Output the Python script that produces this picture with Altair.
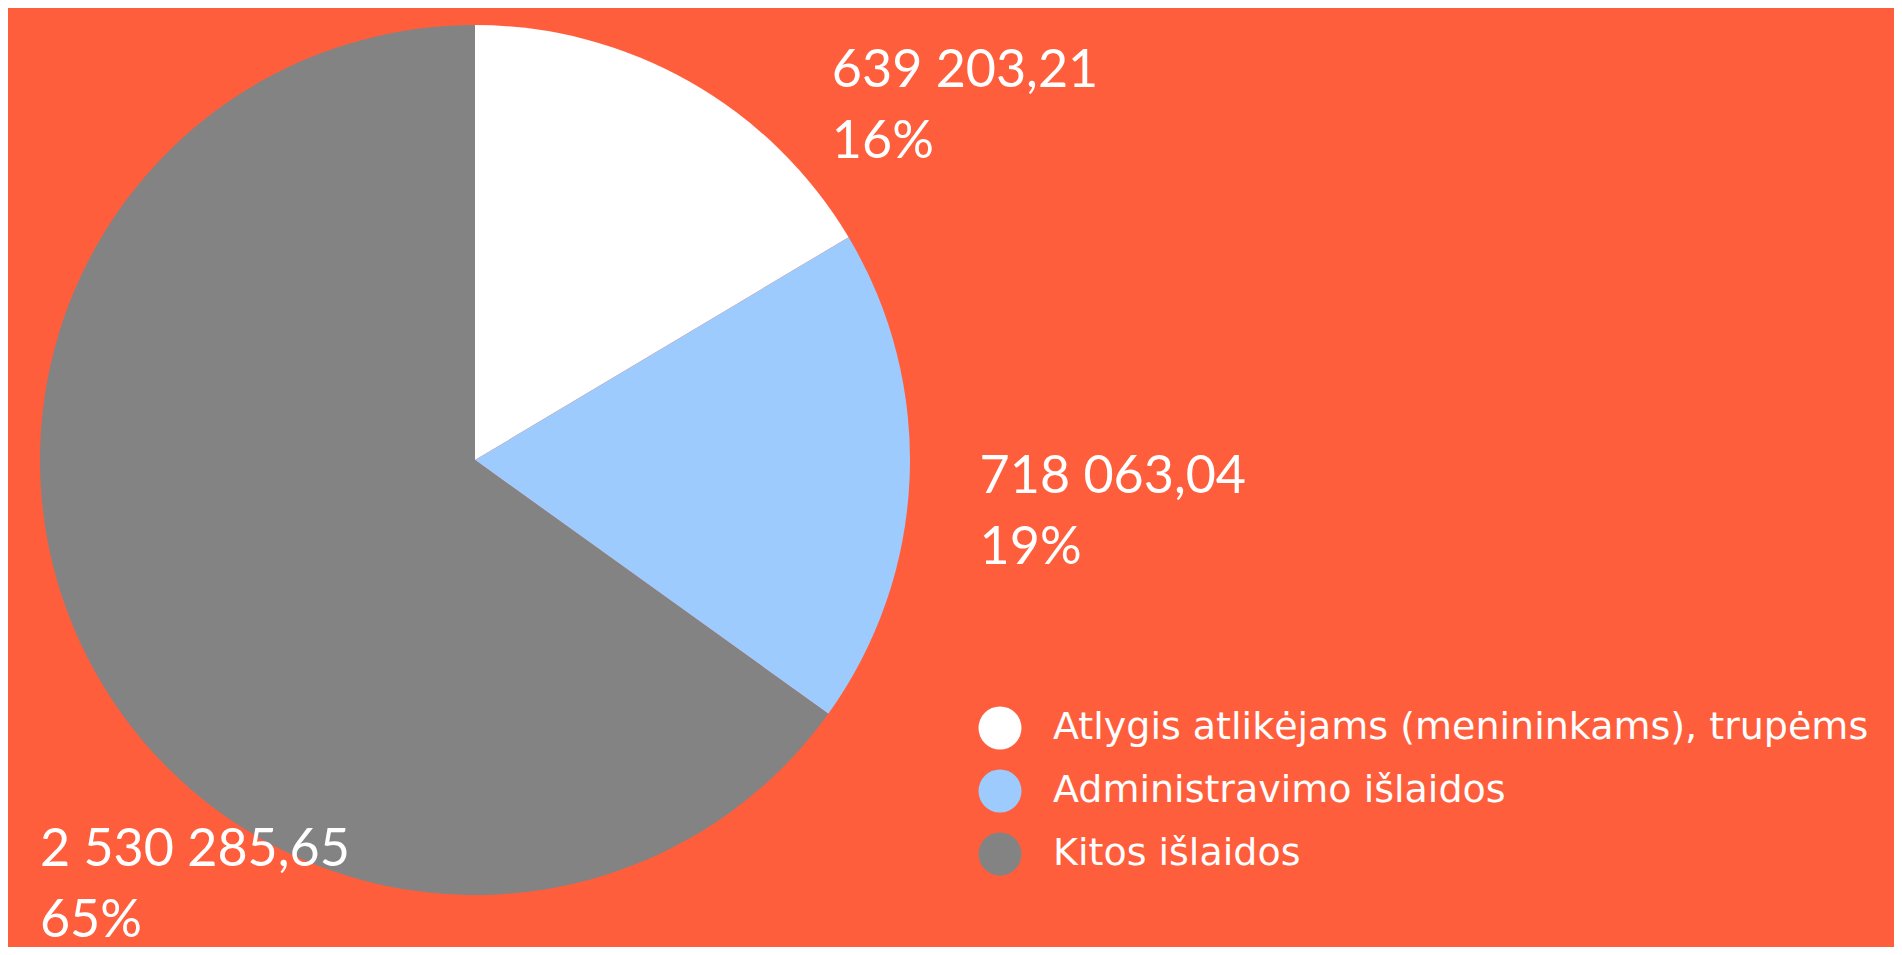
import altair as alt
import pandas as pd

categories = ["Atlygis atlikėjams (menininkams), trupėms", "Administravimo išlaidos", "Kitos išlaidos"]
values = [639203.21, 718063.04, 2530285.65]
value_labels = ["639 203,21", "718 063,04", "2 530 285,65"]
pct_labels = ["16%", "19%", "65%"]
colors = ["#FFFFFF", "#9ECBFD", "#838383"]
order = [0, 1, 2]

df = pd.DataFrame({
    "cat": categories,
    "value": values,
    "idx": order,
    "label": [f"{v}\n{p}" for v, p in zip(value_labels, pct_labels)],
})
total = sum(values)

CX, CY, R = 467, 452, 435
BG = "#FF5E3D"

color = alt.Color(
    "cat:N",
    scale=alt.Scale(domain=categories, range=colors),
    sort=categories,
    legend=alt.Legend(
        title=None, orient="none", legendX=970, legendY=698, padding=0,
        symbolType="circle", symbolSize=1850, symbolStrokeWidth=0,
        labelFontSize=38, labelFont="DejaVu Sans", labelColor="white",
        labelOffset=31, labelLimit=2000, rowPadding=19,
    ),
)

base = alt.Chart(df)

pie = base.mark_arc(radius=R, stroke=None).encode(
    theta=alt.Theta("value:Q", stack=True, scale=alt.Scale(domain=[0, total])),
    color=color,
    order=alt.Order("idx:Q"),
    x=alt.value(CX),
    y=alt.value(CY),
)

offsets = [(142, 5), (70, 14), (-48, 207)]
layers = [pie]
for k, (ddx, ddy) in enumerate(offsets):
    t = (
        base.transform_window(cum="sum(value)", sort=[alt.SortField("idx")], frame=[None, 0])
        .transform_calculate(mid="datum.cum - datum.value / 2")
        .transform_filter(alt.datum.idx == k)
        .mark_text(radius=R, align="left", baseline="alphabetic", lineBreak="\n",
                   lineHeight=71, fontSize=52, font="Lato", color="white", dx=ddx, dy=ddy)
        .encode(
            theta=alt.Theta("mid:Q", scale=alt.Scale(domain=[0, total])),
            text="label:N",
            x=alt.value(CX),
            y=alt.value(CY),
        )
    )
    layers.append(t)

chart = (
    alt.layer(*layers)
    .properties(width=1886, height=939, autosize=alt.AutoSizeParams(type="none"), padding=0)
    .configure(background=BG)
    .configure_view(stroke=None)
)

chart.save("out.html", embed_options={"renderer": "svg", "actions": False})
